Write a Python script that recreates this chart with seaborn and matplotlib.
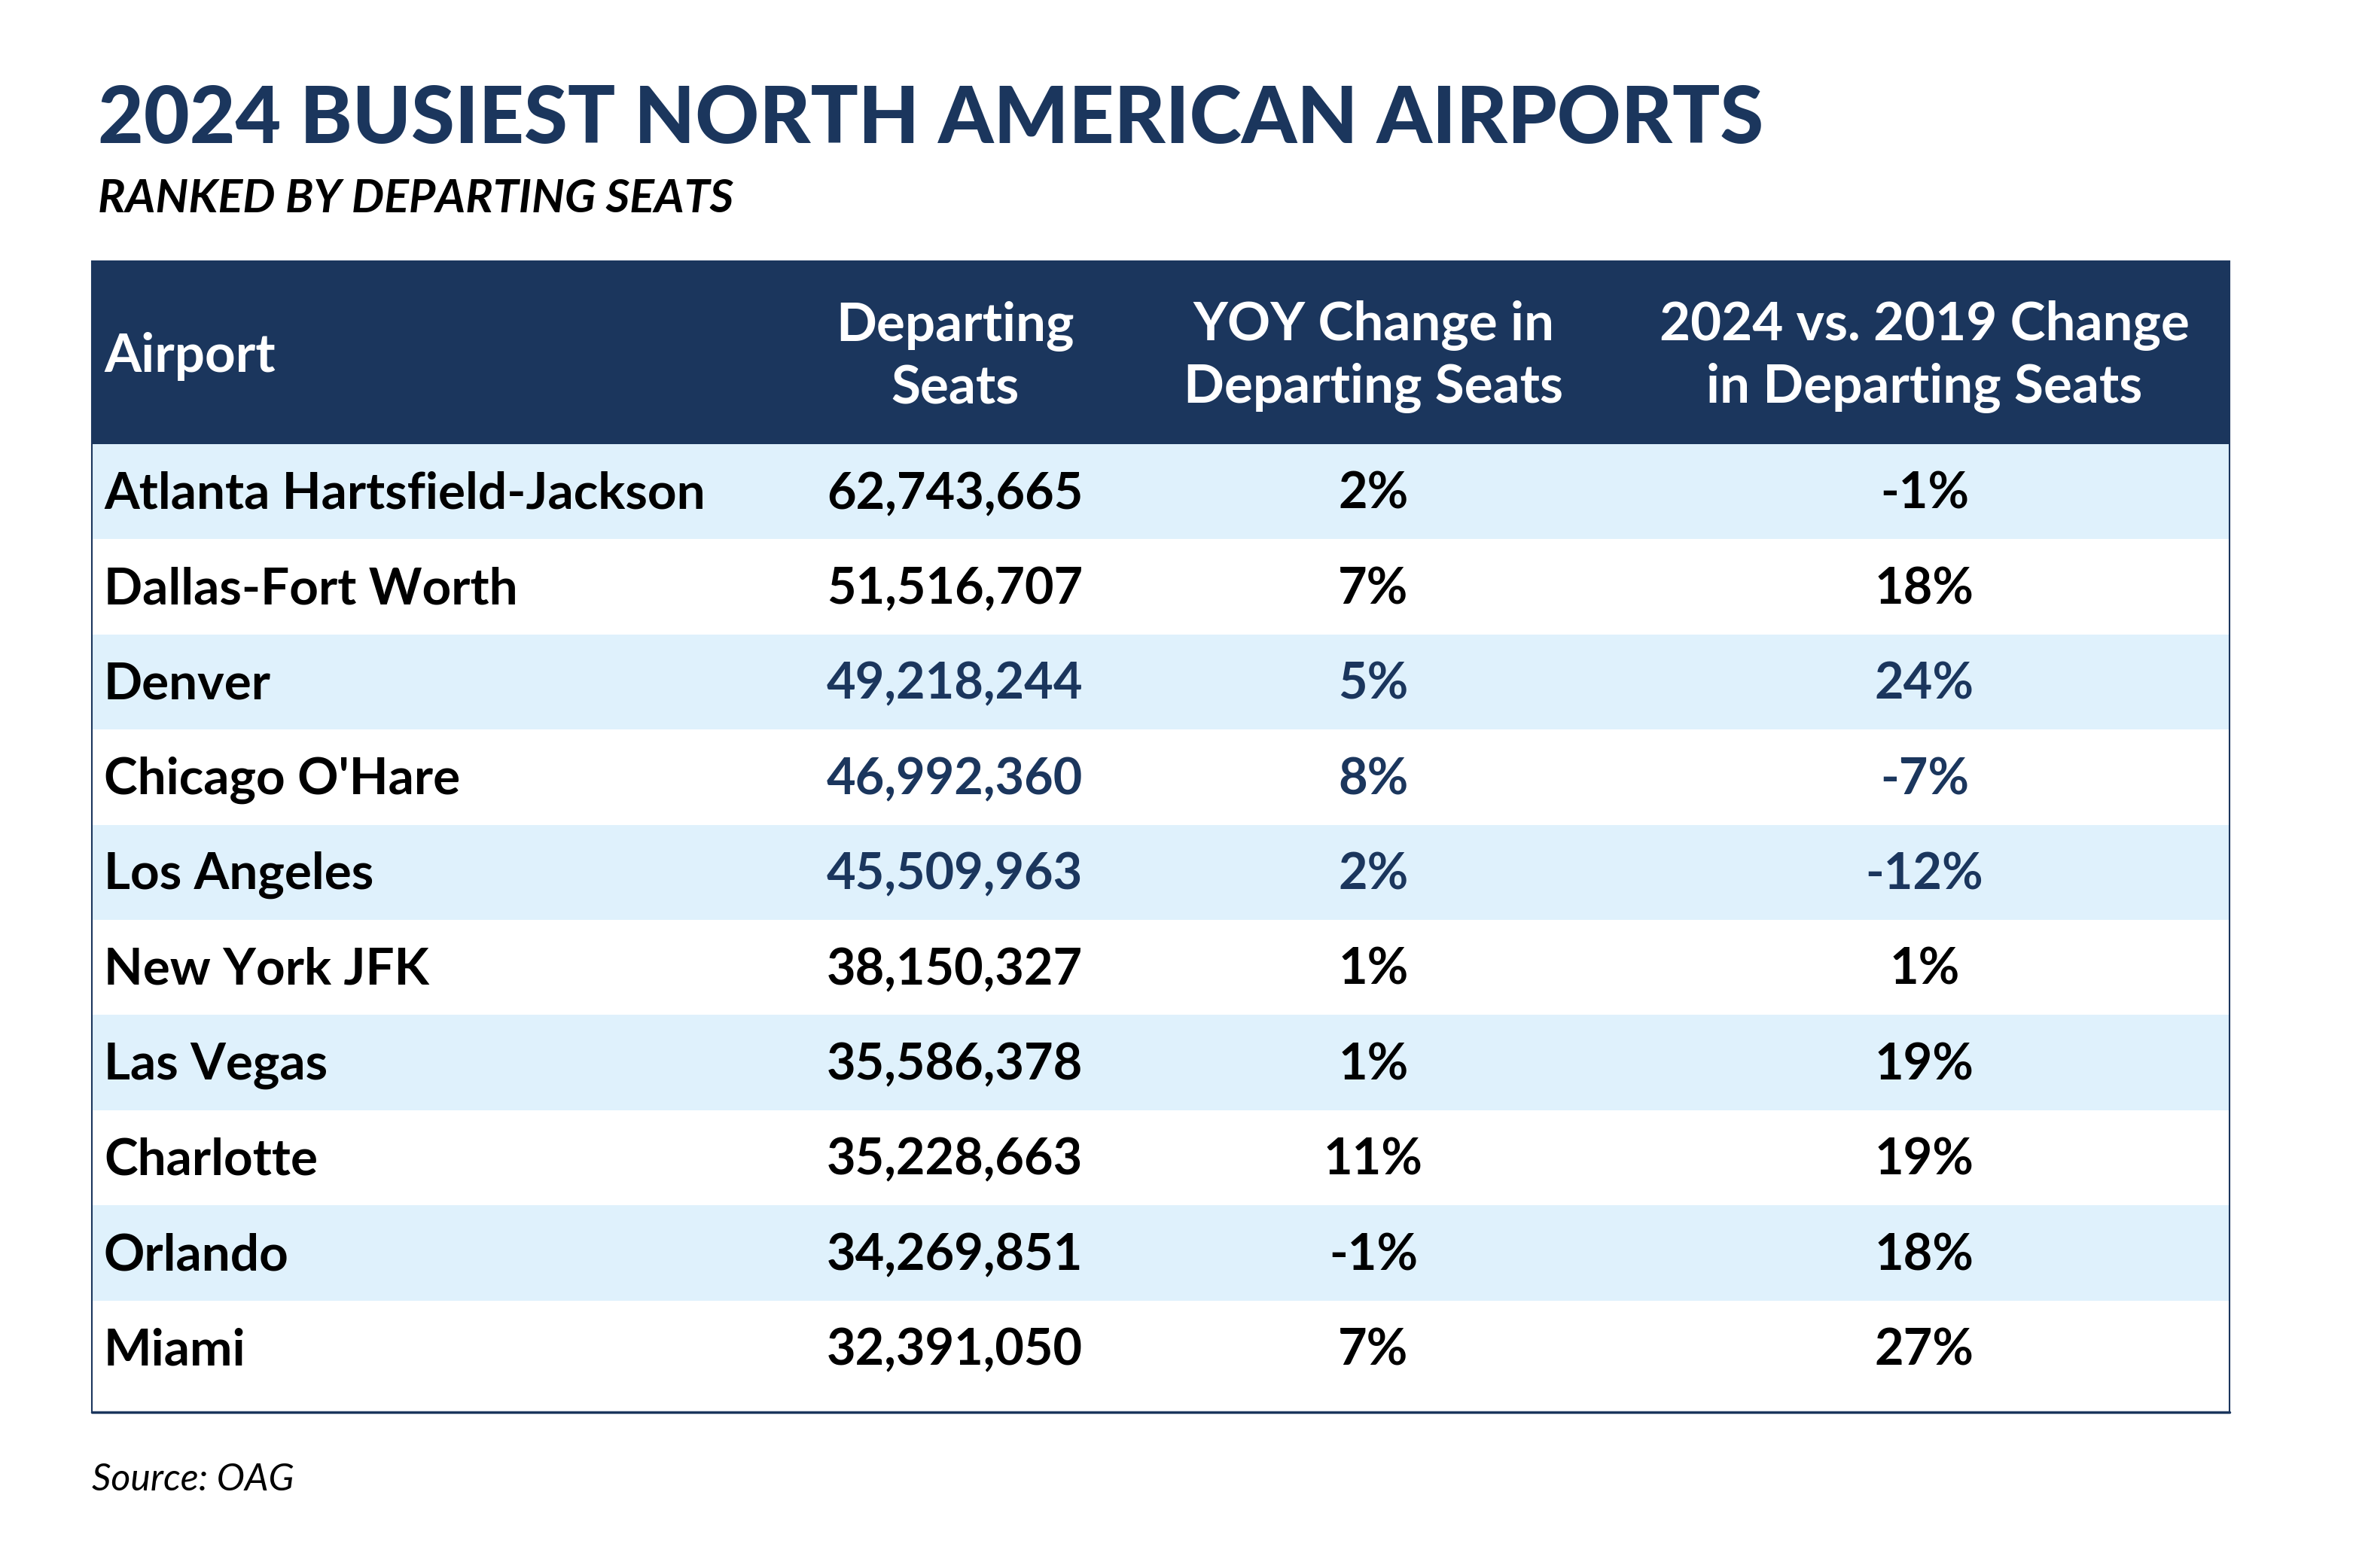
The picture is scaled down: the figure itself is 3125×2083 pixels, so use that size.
import numpy as np
import pandas as pd
import seaborn as sns
import matplotlib.pyplot as plt
from matplotlib.colors import ListedColormap
from matplotlib.patches import Rectangle

### DATA
airports = ["Atlanta Hartsfield-Jackson", "Dallas-Fort Worth", "Denver", "Chicago O'Hare",
            "Los Angeles", "New York JFK", "Las Vegas", "Charlotte", "Orlando", "Miami"]
departing_seats = [62743665, 51516707, 49218244, 46992360, 45509963,
                   38150327, 35586378, 35228663, 34269851, 32391050]
yoy_change = [2, 7, 5, 8, 2, 1, 1, 11, -1, 7]
change_vs_2019 = [-1, 18, 24, -7, -12, 1, 19, 19, 18, 27]
headers = ["Airport", "Departing\nSeats", "YOY Change in\nDeparting Seats",
           "2024 vs. 2019 Change\nin Departing Seats"]
highlight_rows = ["Denver", "Chicago O'Hare", "Los Angeles"]

NAVY = "#1b365d"
LIGHT = "#dff1fc"

df = pd.DataFrame({"airport": airports, "seats": departing_seats,
                   "yoy": yoy_change, "vs2019": change_vs_2019})
# alternating row shading: 1 = light blue, 0 = white
band = pd.DataFrame({"band": [1 - (i % 2) for i in range(len(df))]}, index=df["airport"])

sns.set_style("white")
plt.rcParams["font.family"] = ["Lato", "DejaVu Sans"]

W, H = 3125, 2083
fig = plt.figure(figsize=(W / 100, H / 100), dpi=100)

def fx(px):
    return px / W

def fy(py):
    return 1 - py / H

tbl_left, tbl_right = 122, 2961
tbl_top, head_bottom, rows_bottom, tbl_bottom = 347, 590, 1854, 1876

### BODY ROWS
ax = fig.add_axes([fx(tbl_left), fy(rows_bottom), fx(tbl_right - tbl_left), (rows_bottom - head_bottom) / H])
sns.heatmap(band, cmap=ListedColormap(["white", LIGHT]), vmin=0, vmax=1, cbar=False,
            xticklabels=False, yticklabels=False, ax=ax)
ax.set_xlabel("")
ax.set_ylabel("")

tr = ax.get_yaxis_transform()
width = tbl_right - tbl_left
col_px = [138, 1268, 1824, 2556]
col_x = [(px - tbl_left) / width for px in col_px]

for i, row in df.iterrows():
    y = i + 0.53
    num_color = NAVY if row["airport"] in highlight_rows else "black"
    ax.text(col_x[0], y, row["airport"], transform=tr, ha="left", va="center",
            fontsize=48.5, fontweight="bold", color="black")
    ax.text(col_x[1], y, f"{row['seats']:,}", transform=tr, ha="center", va="center",
            fontsize=48, fontweight="bold", color=num_color)
    ax.text(col_x[2], y, f"{row['yoy']}%", transform=tr, ha="center", va="center",
            fontsize=48, fontweight="bold", color=num_color)
    ax.text(col_x[3], y, f"{row['vs2019']}%", transform=tr, ha="center", va="center",
            fontsize=48, fontweight="bold", color=num_color)

### HEADER
fig.patches.append(Rectangle((fx(tbl_left), fy(head_bottom)), fx(width), (head_bottom - tbl_top) / H,
                             transform=fig.transFigure, facecolor=NAVY, edgecolor="none", zorder=0))
head_y = fy(474)
fig.text(fx(138), head_y, headers[0], ha="left", va="center", fontsize=51,
         fontweight="bold", color="white")
for px, label in zip(col_px[1:], headers[1:]):
    fig.text(fx(px), head_y, label, ha="center", va="center", fontsize=51,
             fontweight="bold", color="white", linespacing=1.32, multialignment="center")

# table outline
fig.patches.append(Rectangle((fx(tbl_left), fy(tbl_bottom)), fx(width), (tbl_bottom - tbl_top) / H,
                             transform=fig.transFigure, facecolor="none", edgecolor=NAVY,
                             linewidth=1.5, zorder=5))
fig.add_artist(plt.Line2D([fx(tbl_left), fx(tbl_right)], [fy(tbl_bottom), fy(tbl_bottom)],
                          transform=fig.transFigure, color=NAVY, linewidth=2.5, zorder=6))

### TITLES
fig.text(fx(130), fy(190), "2024 BUSIEST NORTH AMERICAN AIRPORTS", ha="left", va="baseline",
         fontsize=75.5, fontweight="black", color=NAVY)
fig.text(fx(130), fy(282), "RANKED BY DEPARTING SEATS", ha="left", va="baseline",
         fontsize=44, fontweight="bold", fontstyle="italic", color="black")
fig.text(fx(122), fy(1980), "Source: OAG", ha="left", va="baseline",
         fontsize=36, fontstyle="italic", color="black")

fig.savefig("out.png", dpi=100)
